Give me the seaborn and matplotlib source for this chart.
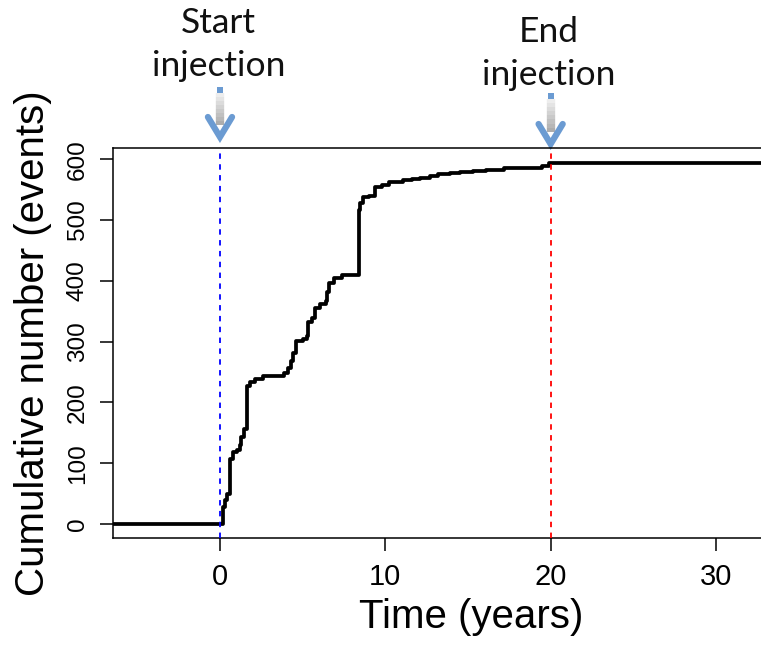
import numpy as np
import pandas as pd
import seaborn as sns
import matplotlib.pyplot as plt
from matplotlib import transforms

# cumulative number of events (step changes)
event_time = [-6.5, 0.2, 0.3, 0.45, 0.6, 0.62, 0.81, 1.0, 1.21, 1.3, 1.47, 1.62, 1.82,
              2.12, 2.6, 3.9, 4.1, 4.3, 4.44, 4.6, 5.05, 5.25, 5.3, 5.56, 5.76, 6.06,
              6.4, 6.46, 6.57, 6.87, 7.4, 8.38, 8.45, 8.65, 9.0, 9.39, 9.8, 10.2, 10.5,
              11.1, 11.6, 12.1, 12.7, 13.2, 13.9, 14.5, 15.3, 16.1, 16.7, 17.2, 19.5,
              19.9, 33.5]
cum_events = [0, 28, 40, 50, 57, 107, 118, 122, 130, 143, 156, 227, 233,
              238, 244, 249, 257, 268, 282, 301, 305, 310, 333, 339, 356, 362,
              366, 381, 397, 405, 410, 517, 528, 537, 540, 555, 558, 562, 563,
              565, 567, 569, 572, 575, 577, 579, 580, 582, 583, 585, 589,
              594, 594]
x_ticks = [0, 10, 20, 30]
y_ticks = [0, 100, 200, 300, 400, 500, 600]
start_year = 0
end_year = 20

sns.set_style('ticks')
plt.rcParams['font.family'] = ['Liberation Sans', 'DejaVu Sans']
plt.rcParams['text.color'] = 'black'
plt.rcParams['axes.labelcolor'] = 'black'
plt.rcParams['xtick.color'] = 'black'
plt.rcParams['ytick.color'] = 'black'

fig = plt.figure(figsize=(7.61, 6.47), dpi=100)
ax = fig.add_axes([0.1485, 0.1677, 0.8575, 0.603])

df = pd.DataFrame({'time': event_time, 'events': cum_events})
sns.lineplot(data=df, x='time', y='events', ax=ax, color='black', lw=2.7,
             drawstyle='steps-post', estimator=None, zorder=2)

ax.axvline(start_year, color='#0000ff', ls=(0, (3, 3)), lw=1.3, zorder=3)
ax.axvline(end_year, color='#ff0000', ls=(0, (3, 3)), lw=1.3, zorder=3)

ax.set_xlim(-6.47, 33.0)
ax.set_ylim(-23.8, 617.8)
ax.set_xticks(x_ticks)
ax.set_yticks(y_ticks)
for sp in ax.spines.values():
    sp.set_color('black')
    sp.set_linewidth(1.1)
ax.tick_params(axis='both', direction='out', length=9.5, width=1.1, color='black',
               labelcolor='black', pad=8)
ax.tick_params(axis='x', labelsize=21)
ax.tick_params(axis='y', labelsize=17.5)
plt.setp(ax.get_yticklabels(), rotation=90, va='center')

ax.set_xlabel('Time (years)', fontsize=29)
ax.set_ylabel('Cumulative number (events)', fontsize=29)
ax.xaxis.set_label_coords(0.549, -0.1525)
ax.yaxis.set_label_coords(-0.0935, 0.5)

# injection markers above the plot
trans = transforms.blended_transform_factory(ax.transData, fig.transFigure)
H = 647.0
def fy(py):
    return (H - py) / H

for x, top, tip, lines in [(start_year, 90, 137, [('Start', 33), ('injection', 76)]),
                           (end_year, 95.5, 144, [('End', 42), ('injection', 85)])]:
    dx = 0.73
    # grey shaft, lighter at the top
    steps = np.linspace(top + 3, tip - 12, 9)
    greys = np.linspace(0.93, 0.68, 8)
    for y0, y1, g in zip(steps[:-1], steps[1:], greys):
        ax.plot([x, x], [fy(y0), fy(y1)], transform=trans, clip_on=False,
                color=(g, g, g), lw=6, solid_capstyle='butt')
    ax.plot([x], [fy(top)], transform=trans, clip_on=False, marker='s',
            markersize=4.5, color='#6b9bd2', markeredgewidth=0)
    ax.plot([x - dx, x, x + dx], [fy(tip - 20), fy(tip), fy(tip - 20)], transform=trans,
            clip_on=False, color='#6b9bd2', lw=4.5, solid_capstyle='round',
            solid_joinstyle='miter')
    for txt, base in lines:
        ax.text(x - 0.1, fy(base), txt, transform=trans, ha='center', va='baseline',
                fontsize=25.5, family=['Lato', 'DejaVu Sans'], color='#111111')

fig.savefig('out.png', dpi=100)
